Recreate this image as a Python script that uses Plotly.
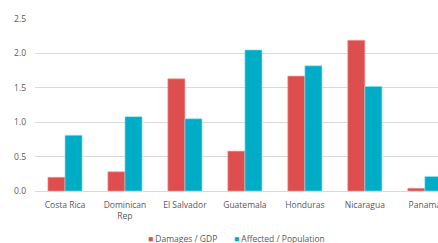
import plotly.graph_objects as go

categories = ["Costa Rica", "Dominican<br>Rep", "El Salvador", "Guatemala", "Honduras", "Nicaragua", "Panama"]
damages_gdp = [0.20, 0.28, 1.63, 0.58, 1.67, 2.19, 0.04]
affected_pop = [0.81, 1.08, 1.05, 2.05, 1.82, 1.52, 0.21]
y_ticks = [0.0, 0.5, 1.0, 1.5, 2.0, 2.5]
y_labels = ["0.0", "0.5", "1.0", "1.5", "2.0", "2.5"]
series_names = ["Damages / GDP", "Affected / Population"]
series_colors = ["#DE4E4E", "#00ACC6"]

fig = go.Figure()
fig.add_trace(go.Bar(x=categories, y=damages_gdp, name=series_names[0], showlegend=False,
                     marker=dict(color=series_colors[0], line=dict(color="#F4A0A0", width=0.6))))
fig.add_trace(go.Bar(x=categories, y=affected_pop, name=series_names[1], showlegend=False,
                     marker=dict(color=series_colors[1], line=dict(color="#8FE3F0", width=0.6))))

# compact legend drawn as text keys below the plot
legend_x = [0.275, 0.49]
for nm, col, lx in zip(series_names, series_colors, legend_x):
    fig.add_annotation(
        text=f"<span style='color:{col}'>■</span> {nm}",
        xref="paper", yref="paper", x=lx, y=-0.275, xanchor="left", yanchor="middle",
        showarrow=False, font=dict(family="Open Sans", size=8.5, color="#595959"),
    )

fig.update_layout(
    width=438, height=243,
    margin=dict(l=35, r=0, t=19, b=52),
    paper_bgcolor="white", plot_bgcolor="white",
    barmode="group", bargap=0.43, bargroupgap=0,
    font=dict(family="Open Sans", size=8.5, color="#595959"),
    showlegend=False,
)
fig.update_xaxes(range=[-0.5, 6.22], showgrid=False, showline=False, ticks="",
                 ticklabelstandoff=7, automargin=False,
                 tickfont=dict(size=8.5, color="#595959"), fixedrange=True)
fig.update_yaxes(range=[0, 2.5], tickvals=y_ticks, ticktext=y_labels,
                 showgrid=True, gridcolor="#D9D9D9", gridwidth=1,
                 zeroline=True, zerolinecolor="#D9D9D9", zerolinewidth=1,
                 showline=False, ticks="", ticklabelstandoff=8, automargin=False,
                 tickfont=dict(size=8.5, color="#595959"), fixedrange=True)

fig.write_html("out.html", config={"displayModeBar": False},
               post_script="document.body.style.margin='0px';")
